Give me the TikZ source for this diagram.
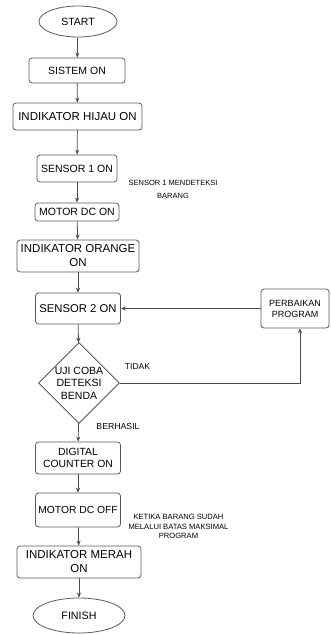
\documentclass[tikz,border=0pt]{standalone}
\usepackage{fontspec}
\setmainfont{Liberation Sans}
\usetikzlibrary{shapes.geometric,arrows.meta}

\tikzset{
  proses/.style={draw=black!65, line width=.8pt, rounded corners=3pt, align=center, inner sep=1pt, text=black},
  terminal/.style={draw=black!65, line width=.8pt, ellipse, inner sep=0pt, text=black},
  keputusan/.style={draw=black!65, line width=.8pt, diamond, inner sep=0pt, align=center, text=black},
  catatan/.style={align=center, inner sep=0pt, text=black},
  panah/.style={draw=black!70, line width=.8pt, -{Stealth[length=5pt,width=4pt]}}
}

\begin{document}
\begin{tikzpicture}[x=1pt, y=-1pt]
			\useasboundingbox (0,0) rectangle (331,635);
			\node[terminal, minimum width=78pt, minimum height=31pt, font=\fontsize{10.5}{12}\selectfont] (start) at (78,21.5){START};
			\node[proses, minimum width=96pt, minimum height=25pt, font=\fontsize{10.5}{12}\selectfont] (sistem) at (77,70.5){SISTEM ON};
			\node[proses, minimum width=129pt, minimum height=27pt, font=\fontsize{11.5}{14}\selectfont] (hijau) at (77.5,116.5){INDIKATOR HIJAU ON};
			\node[proses, minimum width=80pt, minimum height=27pt, font=\fontsize{10.5}{12}\selectfont] (sensor1) at (77,168.5){SENSOR 1 ON};
			\node[proses, minimum width=84pt, minimum height=18pt, font=\fontsize{10.5}{12}\selectfont] (motoron) at (77,212){MOTOR DC ON};
			\node[proses, minimum width=122pt, minimum height=32pt, font=\fontsize{11.5}{14}\selectfont] (orange) at (78,256){INDIKATOR ORANGE\\ON};
			\node[proses, minimum width=85pt, minimum height=31pt, font=\fontsize{11.3}{13}\selectfont] (sensor2) at (78,308.5){SENSOR 2 ON};
			\node[keputusan, minimum width=80pt, minimum height=78pt, font=\fontsize{10.5}{12.5}\selectfont] (uji) at (79,383){UJI COBA\\DETEKSI\\BENDA};
			\node[proses, minimum width=85pt, minimum height=32pt, font=\fontsize{10.4}{12}\selectfont] (counter) at (78,458){DIGITAL\\COUNTER ON};
			\node[proses, minimum width=85pt, minimum height=34pt, font=\fontsize{10.3}{12}\selectfont] (motoroff) at (78,510){MOTOR DC OFF};
			\node[proses, minimum width=124pt, minimum height=32pt, font=\fontsize{11.5}{14}\selectfont] (merah) at (79,562){INDIKATOR MERAH\\ON};
			\node[terminal, minimum width=92pt, minimum height=35pt, font=\fontsize{10.7}{12}\selectfont] (finish) at (79,615.5){FINISH};
			\node[proses, minimum width=68pt, minimum height=39pt, font=\fontsize{9}{11}\selectfont] (perbaikan) at (295,308.5){PERBAIKAN\\PROGRAM};
			% keterangan
			\node[catatan, font=\fontsize{7.5}{13}\selectfont] (ket1) at (173,189.5){SENSOR 1 MENDETEKSI\\BARANG};
			\node[catatan, font=\fontsize{8.5}{10}\selectfont] (tidak) at (137.5,367){TIDAK};
			\node[catatan, font=\fontsize{8.7}{10}\selectfont] (berhasil) at (118,426){BERHASIL};
			\node[catatan, font=\fontsize{7.6}{9.5}\selectfont] (ket2) at (178.5,526.5){KETIKA BARANG SUDAH\\MELALUI BATAS MAKSIMAL\\PROGRAM};
			\coordinate (belok) at (300,383);
			\draw[panah] (start) -- (sistem);
			\draw[panah] (sistem) -- (hijau);
			\draw[panah] (hijau) -- (sensor1);
			\draw[panah] (sensor1) -- (motoron);
			\draw[panah] (motoron) -- (orange);
			\draw[panah] (orange) -- (sensor2);
			\draw[panah] (sensor2) -- (uji);
			\draw[panah] (uji) -- (counter);
			\draw[panah] (counter) -- (motoroff);
			\draw[panah] (motoroff) -- (merah);
			\draw[panah] (merah) -- (finish);
			\draw[panah] (uji.east) -- (belok) -- (belok |- perbaikan.south);
			\draw[panah] (perbaikan) -- (sensor2);
		\end{tikzpicture}
\end{document}
